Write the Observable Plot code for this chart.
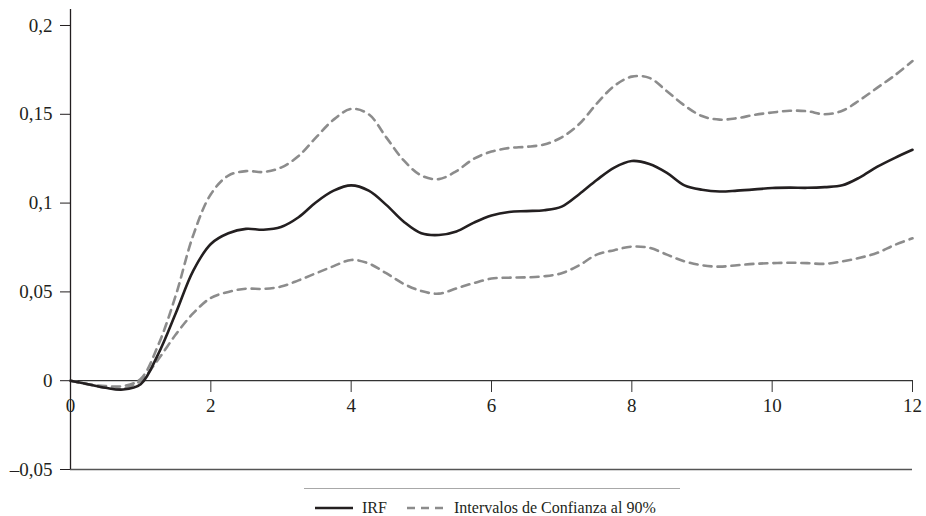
<!DOCTYPE html>
<html>
<head>
<meta charset="utf-8">
<script src="https://cdn.jsdelivr.net/npm/d3@7"></script>
<script src="https://cdn.jsdelivr.net/npm/@observablehq/plot@0.6"></script>
<style>
  body { margin: 0; background: #fff; }
  #wrap { position: relative; width: 926px; height: 516px; font-family: "Liberation Serif", "DejaVu Serif", serif; }
  #legend { position: absolute; left: 0; top: 478px; width: 926px; height: 38px; }
  #legend .sep { position: absolute; left: 304px; top: 10px; width: 376px; height: 0; border-top: 1.5px solid #a8a8a8; }
  #legend .item { position: absolute; top: 21px; display: flex; align-items: center; font-size: 16px; color: #231f20; white-space: nowrap; }
  #legend svg { margin-right: 9px; }
</style>
</head>
<body>
<div id="wrap">
  <div id="chart"></div>
  <div id="legend">
    <div class="sep"></div>
    <div class="item" style="left:315px"><svg width="38" height="10"><line x1="0" y1="5" x2="38" y2="5" stroke="#231f20" stroke-width="2.6"/></svg>IRF</div>
    <div class="item" style="left:407px"><svg width="38" height="10"><line x1="0" y1="5" x2="38" y2="5" stroke="#8c8c8c" stroke-width="2.6" stroke-dasharray="8,6"/></svg>Intervalos de Confianza al 90%</div>
  </div>
</div>
<script>
const periods = [0,0.25,0.5,0.75,1,1.25,1.5,1.75,2,2.25,2.5,2.75,3,3.25,3.5,3.75,4,4.25,4.5,4.75,5,5.25,5.5,5.75,6,6.25,6.5,6.75,7,7.25,7.5,7.75,8,8.25,8.5,8.75,9,9.25,9.5,9.75,10,10.25,10.5,10.75,11,11.25,11.5,11.75,12];
const irf = [0,-0.002,-0.004,-0.005,-0.002,0.015,0.038,0.062,0.077,0.083,0.0855,0.085,0.0865,0.092,0.1005,0.107,0.110,0.107,0.099,0.0895,0.083,0.082,0.084,0.089,0.093,0.095,0.0955,0.096,0.098,0.105,0.113,0.120,0.1237,0.122,0.117,0.110,0.1075,0.1065,0.107,0.1077,0.1085,0.1087,0.1086,0.109,0.110,0.1145,0.1205,0.1255,0.130];
const upper = [0,-0.002,-0.003,-0.003,0.001,0.02,0.048,0.082,0.105,0.1155,0.118,0.1175,0.120,0.1265,0.137,0.147,0.153,0.150,0.137,0.124,0.1155,0.1135,0.118,0.125,0.129,0.131,0.1317,0.133,0.137,0.1445,0.156,0.166,0.1712,0.1705,0.163,0.155,0.149,0.147,0.1478,0.1497,0.151,0.152,0.1517,0.150,0.152,0.158,0.165,0.172,0.180];
const lower = [0,-0.002,-0.004,-0.0045,0.0,0.012,0.026,0.038,0.0466,0.050,0.0518,0.0517,0.053,0.0565,0.0605,0.0645,0.068,0.066,0.0605,0.0545,0.0505,0.049,0.052,0.055,0.0575,0.058,0.0582,0.0588,0.0605,0.065,0.071,0.0735,0.0755,0.0748,0.071,0.0672,0.065,0.0642,0.065,0.0658,0.0662,0.0664,0.0662,0.0658,0.0672,0.0692,0.072,0.0765,0.0802];
const xTicks = [0,2,4,6,8,10,12];
const yTicks = [-0.05,0,0.05,0.1,0.15,0.2];

const rows = (vals) => periods.map((p, i) => ({x: p, y: vals[i]}));
const fmt = d => d === 0 ? "0" : (d < 0 ? "\u2013" : "") + String(Math.abs(d)).replace(".", ",");

const chart = Plot.plot({
  width: 926,
  height: 478,
  marginLeft: 70,
  marginRight: 14,
  marginTop: 9,
  marginBottom: 9,
  x: {domain: [0, 12]},
  y: {domain: [-0.05, 0.209]},
  style: {fontFamily: "Liberation Serif, DejaVu Serif, serif", fontSize: "19px", color: "#231f20", background: "#fff", overflow: "visible"},
  marks: [
    Plot.ruleY([0], {stroke: "#333", strokeWidth: 1.2}),
    Plot.ruleY([-0.05], {stroke: "#555", strokeWidth: 1.5}),
    Plot.axisY({ticks: yTicks, tickFormat: fmt, tickSize: 10, tickPadding: 8, stroke: "#231f20", fill: "#231f20", label: null}),
    Plot.axisX({ticks: xTicks, tickFormat: d => String(d), anchor: "bottom", dy: -89, tickSize: 12, tickPadding: 6, stroke: "#333", fill: "#231f20", label: null}),
    Plot.line(rows(upper), {x: "x", y: "y", stroke: "#8c8c8c", strokeWidth: 2.6, strokeDasharray: "8,6", curve: "catmull-rom"}),
    Plot.line(rows(lower), {x: "x", y: "y", stroke: "#8c8c8c", strokeWidth: 2.6, strokeDasharray: "8,6", curve: "catmull-rom"}),
    Plot.line(rows(irf), {x: "x", y: "y", stroke: "#231f20", strokeWidth: 2.6, curve: "catmull-rom"}),
    Plot.ruleX([0], {stroke: "#231f20", strokeWidth: 1.3})
  ]
});
document.getElementById("chart").appendChild(chart);
</script>
</body>
</html>
